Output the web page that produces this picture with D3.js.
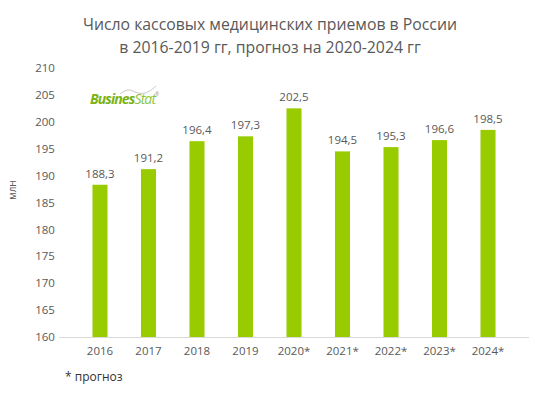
<!DOCTYPE html>
<html><head><meta charset="utf-8">
<script src="https://cdn.jsdelivr.net/npm/d3@7"></script>
<style>body{margin:0;background:#fff}svg{display:block}</style>
</head><body>
<svg id="c" width="535" height="393"></svg>
<script>
const categories = ["2016","2017","2018","2019","2020*","2021*","2022*","2023*","2024*"];
const values = [188.3,191.2,196.4,197.3,202.5,194.5,195.3,196.6,198.5];
const valueLabels = ["188,3","191,2","196,4","197,3","202,5","194,5","195,3","196,6","198,5"];
const yTicks = [160,165,170,175,180,185,190,195,200,205,210];
const titleLines = ["Число кассовых медицинских приемов в России","в 2016-2019 гг, прогноз на 2020-2024 гг"];

const svg = d3.select("#c");
const font = "'Open Sans', sans-serif";
const grey = "#595959";
const x = d3.scaleBand().domain(categories).range([59,529]).padding(0.69);
const y = d3.scaleLinear().domain([160,210]).range([337,68]);

svg.selectAll("text.title").data(titleLines).join("text")
  .attr("x",270).attr("y",(d,i)=>30+i*23).attr("text-anchor","middle")
  .attr("font-family",font).attr("font-size",15.8).attr("fill",grey).text(d=>d);

const ya = svg.append("g").attr("transform","translate(50,0)")
  .call(d3.axisLeft(y).tickValues(yTicks).tickSize(0).tickPadding(0));
ya.select(".domain").remove();
ya.selectAll("text").attr("font-family",font).attr("font-size",11.5).attr("fill",grey).attr("text-anchor","middle").attr("x",-5);

const xa = svg.append("g").attr("transform","translate(0,337)")
  .call(d3.axisBottom(x).tickSize(0).tickPadding(10));
xa.select(".domain").attr("stroke","#d9d9d9").attr("d","M59,0.5H529");
xa.selectAll("text").attr("font-family",font).attr("font-size",11.5).attr("fill",grey);

svg.selectAll("rect.bar").data(values).join("rect")
  .attr("x",(d,i)=>x(categories[i])).attr("width",x.bandwidth())
  .attr("y",d=>y(d)).attr("height",d=>337-y(d)).attr("fill","#99cc00");

svg.selectAll("text.vl").data(values).join("text")
  .attr("x",(d,i)=>x(categories[i])+x.bandwidth()/2).attr("y",d=>y(d)-7)
  .attr("text-anchor","middle").attr("font-family",font).attr("font-size",11.5).attr("fill",grey)
  .text((d,i)=>valueLabels[i]);

svg.append("text").attr("transform","translate(16,190) rotate(-90)").attr("text-anchor","middle")
  .attr("font-family",font).attr("font-size",10).attr("fill",grey).text("млн");

svg.append("text").attr("x",65).attr("y",381).attr("font-family",font).attr("font-size",12).attr("fill","#333").text("* прогноз");

// logo
const logo = svg.append("g").attr("transform","translate(90,104)");
logo.append("path").attr("d","M30,-10 Q38,-17 45,-12 Q55,-7 66,-18").attr("fill","none").attr("stroke","#bbb").attr("stroke-width",0.8);
const lt = logo.append("text").attr("font-family",font).attr("font-size",14).attr("font-style","italic").attr("letter-spacing",-0.9);
lt.append("tspan").attr("fill","#7ab317").attr("font-weight","bold").text("Busines");
lt.append("tspan").attr("fill","#8cc63f").text("Stat");
logo.append("text").attr("x",65).attr("y",-8).attr("font-size",5).attr("fill","#999").attr("font-family",font).text("®");
</script>
</body></html>
